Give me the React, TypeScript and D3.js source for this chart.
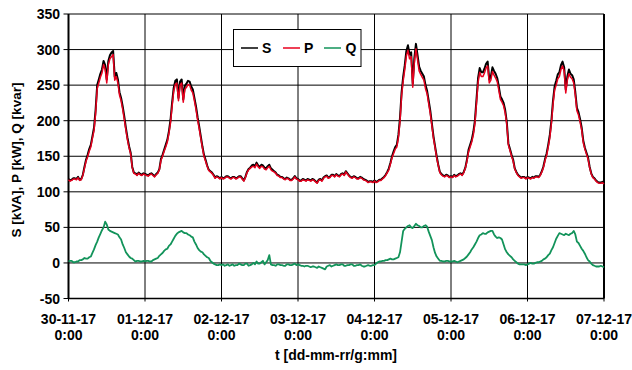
import React from "react";
import * as d3 from "d3";

// Half-hourly readings, 30-11-17 0:00 .. 07-12-17 0:00 (337 samples)
const apparentPowerS: number[] = [
  // 30-11
  118, 116, 117, 119, 119, 118, 121, 117, 118, 124, 135, 145, 152, 160, 166, 178, 190, 215, 250, 258, 266, 272, 284, 278,
  258, 284, 292, 296, 298, 262, 267, 258, 240, 232, 220, 206, 190, 176, 164, 155, 135, 127, 126, 124, 127, 125, 124, 126,
  // 01-12
  125, 124, 123, 125, 126, 124, 122, 125, 127, 132, 146, 152, 159, 166, 173, 185, 201, 225, 246, 256, 258, 232, 255, 258,
  230, 249, 252, 256, 255, 248, 244, 232, 220, 205, 192, 178, 164, 152, 145, 137, 131, 129, 127, 124, 120, 122, 121, 119,
  // 02-12
  121, 119, 120, 122, 122, 120, 119, 121, 121, 119, 120, 122, 122, 119, 116, 121, 128, 132, 134, 137, 138, 136, 141, 137,
  135, 138, 137, 134, 133, 136, 138, 133, 131, 129, 127, 124, 123, 121, 121, 119, 118, 120, 119, 117, 117, 119, 122, 119,
  // 03-12
  118, 116, 116, 118, 117, 116, 118, 117, 116, 118, 117, 115, 113, 117, 118, 116, 120, 122, 123, 120, 121, 124, 124, 122,
  125, 123, 122, 125, 126, 124, 129, 126, 123, 121, 120, 122, 121, 119, 119, 121, 120, 118, 117, 116, 114, 115, 115, 114,
  // 04-12
  116, 114, 115, 117, 117, 119, 121, 124, 128, 133, 141, 150, 157, 163, 166, 180, 204, 240, 262, 278, 298, 306, 293, 296,
  252, 288, 308, 292, 276, 270, 266, 262, 250, 242, 228, 214, 196, 178, 164, 150, 138, 128, 125, 123, 122, 124, 123, 121,
  // 05-12
  122, 121, 124, 122, 123, 125, 126, 124, 128, 134, 145, 159, 166, 173, 184, 200, 230, 260, 274, 268, 268, 273, 280, 283,
  258, 262, 275, 270, 266, 260, 248, 234, 230, 225, 215, 198, 168, 160, 152, 145, 133, 128, 124, 122, 120, 121, 121, 119,
  // 06-12 .. 07-12 0:00
  121, 120, 119, 121, 120, 122, 122, 121, 124, 129, 136, 146, 154, 166, 180, 200, 228, 248, 256, 265, 268, 278, 283, 275,
  244, 262, 272, 266, 264, 258, 240, 218, 212, 202, 190, 172, 162, 155, 148, 135, 126, 121, 119, 116, 114, 113, 113, 114,
  112,
];

const activePowerP: number[] = [
  117, 115, 116, 118, 118, 117, 120, 116, 117, 123, 133, 143, 149, 157, 163, 175, 186, 210, 245, 253, 261, 267, 279, 272,
  253, 279, 287, 290, 293, 257, 262, 253, 236, 228, 216, 202, 187, 173, 162, 153, 134, 126, 125, 123, 126, 124, 123, 125,
  124, 123, 122, 124, 125, 123, 121, 124, 126, 131, 144, 150, 157, 163, 170, 182, 197, 220, 241, 251, 253, 228, 250, 253,
  226, 244, 247, 251, 250, 243, 239, 228, 216, 201, 189, 175, 162, 150, 143, 136, 130, 128, 126, 123, 119, 121, 120, 118,
  120, 118, 119, 121, 121, 119, 118, 120, 120, 118, 119, 121, 121, 118, 115, 120, 127, 131, 133, 135, 136, 134, 139, 135,
  133, 136, 135, 132, 131, 134, 136, 131, 129, 128, 126, 123, 122, 120, 120, 118, 117, 119, 118, 116, 116, 118, 121, 118,
  117, 115, 115, 117, 116, 115, 117, 116, 115, 117, 116, 114, 112, 116, 117, 115, 119, 121, 122, 119, 120, 123, 123, 121,
  124, 122, 121, 124, 125, 123, 128, 125, 122, 120, 119, 121, 120, 118, 118, 120, 119, 117, 116, 115, 113, 114, 114, 113,
  115, 113, 114, 116, 116, 118, 120, 123, 127, 131, 139, 148, 154, 160, 163, 176, 199, 235, 256, 272, 291, 299, 287, 290,
  247, 282, 301, 286, 270, 265, 261, 257, 245, 238, 224, 210, 193, 175, 162, 148, 137, 127, 124, 122, 121, 123, 122, 120,
  121, 120, 123, 121, 122, 124, 125, 123, 127, 133, 143, 156, 163, 170, 180, 196, 225, 254, 268, 262, 262, 267, 274, 277,
  253, 257, 269, 264, 260, 255, 243, 230, 226, 221, 211, 195, 166, 158, 150, 143, 132, 127, 123, 121, 119, 120, 120, 118,
  120, 119, 118, 120, 119, 121, 121, 120, 123, 128, 134, 144, 151, 163, 176, 196, 223, 243, 250, 259, 262, 272, 277, 270,
  239, 257, 266, 261, 259, 253, 236, 214, 208, 198, 187, 169, 160, 153, 146, 134, 125, 120, 118, 115, 113, 112, 112, 113,
  111,
];

const reactivePowerQ: number[] = [
  2, 3, 3, 1, 1, 2, 2, 4, 4, 5, 7, 6, 6, 8, 9, 14, 19, 25, 30, 36, 41, 46, 50, 58,
  54, 47, 45, 44, 43, 42, 41, 40, 36, 33, 26, 21, 15, 12, 9, 7, 6, 4, 2, 3, 3, 2, 2, 3,
  2, 3, 3, 2, 2, 4, 5, 6, 7, 10, 12, 14, 17, 19, 20, 24, 26, 30, 34, 38, 41, 43, 44, 45,
  43, 42, 42, 40, 39, 37, 36, 30, 26, 21, 18, 16, 15, 12, 10, 8, 7, 3, 1, -1, -2, -3, -3, -2,
  -3, -2, -4, -3, -2, -4, -3, -2, -4, -3, -3, -1, -2, -3, -3, -1, -1, -4, -3, -2, 0, -2, 2, -1,
  -1, 1, 3, -2, 1, 4, 11, -2, -3, -3, -4, -2, -2, -3, -3, -4, -4, -2, -2, -3, -3, -2, -1, -3,
  -2, -3, -4, -4, -5, -4, -4, -5, -6, -5, -5, -6, -7, -5, -6, -7, -8, -9, -5, -4, -3, -5, -4, -3,
  -2, -3, -3, -2, -2, -4, -4, -3, -3, -2, -2, -4, -4, -3, -3, -2, -4, -5, -5, -4, -3, -4, -4, -3,
  -3, -1, 1, 2, 2, 3, 3, 4, 4, 5, 6, 5, 5, 6, 7, 8, 15, 30, 45, 48, 50, 52, 53, 50,
  49, 52, 55, 53, 52, 50, 50, 52, 53, 51, 44, 38, 32, 22, 14, 9, 6, 3, 3, 2, 2, 3, 3, 2,
  2, 2, 3, 2, 1, 2, 3, 4, 5, 7, 9, 12, 15, 19, 22, 26, 30, 35, 39, 40, 42, 41, 41, 43,
  44, 45, 45, 40, 37, 35, 36, 35, 33, 26, 19, 15, 12, 10, 8, 5, 3, 1, -1, -2, -2, -2, -2, -3,
  -2, -1, 0, -1, -1, 0, 1, 1, 2, 3, 5, 6, 8, 11, 13, 18, 22, 28, 34, 38, 42, 41, 40, 39,
  41, 40, 39, 41, 42, 45, 40, 30, 28, 24, 20, 17, 13, 8, 4, 2, -1, -3, -4, -5, -5, -5, -4, -5,
  -6,
];

const dayLabels: string[] = ["30-11-17", "01-12-17", "02-12-17", "03-12-17", "04-12-17", "05-12-17", "06-12-17", "07-12-17"];
const timeLabel = "0:00";
const yTicks: number[] = [-50, 0, 50, 100, 150, 200, 250, 300, 350];

const seriesNames: string[] = ["S", "P", "Q"];
const seriesColors: string[] = ["#000000", "#e8001e", "#12935a"];

const FONT = "'Liberation Sans', Arial, Helvetica, sans-serif";

export default function App() {
  const width = 632;
  const height = 370;
  const left = 68.5;
  const right = 604;
  const top = 14;
  const bottom = 298.5;

  // samples are every half hour
  const x = d3.scaleLinear().domain([0, 168]).range([left, right]);
  const y = d3.scaleLinear().domain([-50, 350]).range([bottom, top]);

  const line = d3
    .line<number>()
    .x((_, i) => x(i * 0.5))
    .y((v) => y(v));

  const allSeries = [apparentPowerS, activePowerP, reactivePowerQ];
  const widths = [2, 1.5, 1.8];
  const dayTicks = dayLabels.map((_, i) => i * 24);

  // legend geometry
  const lg = { x: 233.5, y: 29.5, w: 127.5, h: 37 };
  const legendItems = [
    { lx: 241, tx: 262 },
    { lx: 283, tx: 304 },
    { lx: 324, tx: 345.5 },
  ];

  return (
    <svg
      width={width}
      height={height}
      style={{ position: "absolute", left: 0, top: 0, background: "#fff" }}
      fontFamily={FONT}
      fontWeight="bold"
    >
      <rect x={0} y={0} width={width} height={height} fill="#fff" />
      {/* horizontal grid + y ticks */}
      {yTicks.map((t) => (
        <g key={"y" + t}>
          <line x1={left - 5} x2={right} y1={y(t)} y2={y(t)} stroke="#000" strokeWidth={1} />
          <text x={60} y={y(t)} dy="0.36em" textAnchor="end" fontSize={14} fill="#000">
            {t}
          </text>
        </g>
      ))}
      {/* vertical day grid + x labels */}
      {dayTicks.map((h, i) => (
        <g key={"x" + h}>
          <line x1={x(h)} x2={x(h)} y1={top} y2={bottom + 3} stroke="#000" strokeWidth={1} />
          <text x={x(h)} y={324} textAnchor="middle" fontSize={14} fill="#000">
            {dayLabels[i]}
          </text>
          <text x={x(h)} y={340} textAnchor="middle" fontSize={14} fill="#000">
            {timeLabel}
          </text>
        </g>
      ))}
      {/* plot frame */}
      <line x1={left} x2={left} y1={top} y2={bottom} stroke="#000" strokeWidth={2} />
      <line x1={right} x2={right} y1={top} y2={bottom} stroke="#000" strokeWidth={2} />
      <line x1={left} x2={right} y1={bottom} y2={bottom} stroke="#000" strokeWidth={1.5} />

      {/* series */}
      {allSeries.map((s, i) => (
        <path
          key={seriesNames[i]}
          d={line(s) || ""}
          fill="none"
          stroke={seriesColors[i]}
          strokeWidth={widths[i]}
          strokeLinejoin="round"
        />
      ))}

      {/* legend */}
      <rect x={lg.x} y={lg.y} width={lg.w} height={lg.h} fill="#fff" stroke="#000" strokeWidth={1} />
      {seriesNames.map((n, i) => (
        <g key={"lg" + n}>
          <line
            x1={legendItems[i].lx}
            x2={legendItems[i].lx + 17}
            y1={48}
            y2={48}
            stroke={seriesColors[i]}
            strokeWidth={1.5}
          />
          <text x={legendItems[i].tx} y={48} dy="0.36em" fontSize={14} fill="#000">
            {n}
          </text>
        </g>
      ))}

      {/* axis titles */}
      <text
        transform={`translate(21, 160) rotate(-90)`}
        textAnchor="middle"
        fontSize={13.5}
        fill="#000"
      >
        S [kVA], P [kW], Q [kvar]
      </text>
      <text x={336} y={360} textAnchor="middle" fontSize={14} fill="#000">
        t [dd-mm-rr/g:mm]
      </text>
    </svg>
  );
}
